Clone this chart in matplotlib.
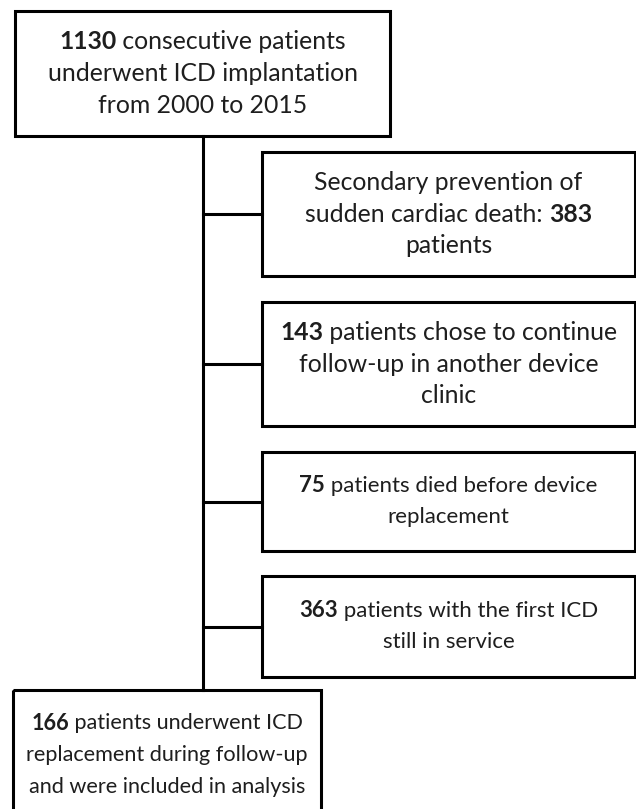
import re
import matplotlib
matplotlib.use('Agg')
import matplotlib.pyplot as plt
from matplotlib.patches import Rectangle

W, H = 636, 809

# box texts, **...** marks bold parts
top_text = ["**1130** consecutive patients", "underwent ICD implantation", "from 2000 to 2015"]
side_texts = [
    ["Secondary prevention of", "sudden cardiac death: **383**", "patients"],
    ["**143** patients chose to continue", "follow-up in another device", "clinic"],
    ["**75** patients died before device", "replacement"],
    ["**363** patients with the first ICD", "still in service"],
]
bottom_text = ["**166** patients underwent ICD", "replacement during follow-up", "and were included in analysis"]

# box geometry in pixels (x0, y0, x1, y1)
top_box = (15, 11, 390, 136)
side_boxes = [(262, 152, 635, 276), (262, 302, 635, 426), (262, 452, 635, 551), (262, 576, 635, 677)]
bottom_box = (13, 690, 321, 830)
trunk_x = 203

# font sizes: the lower boxes use a tighter text in the original
side_fs = [17.8, 17.8, 16.0, 16.0]
top_fs = 17.8
bottom_fs = 15.6

FONT = 'Lato'
LINE_H = 31.8
TXT = '#1e1e1e'

fig = plt.figure(figsize=(W / 100, H / 100), dpi=100)
ax = fig.add_axes([0, 0, 1, 1])
ax.set_xlim(0, W)
ax.set_ylim(H, 0)
ax.axis('off')
renderer = fig.canvas.get_renderer()


def parse(line):
    parts = re.split(r'(\*\*.*?\*\*)', line)
    segs = []
    for p in parts:
        if not p:
            continue
        if p.startswith('**'):
            segs.append((p[2:-2], 'bold'))
        else:
            segs.append((p, 'normal'))
    return segs


def draw_line(line, cx, cy, fs):
    segs = parse(line)
    objs = []
    total = 0
    for s, w in segs:
        t = ax.text(0, cy, s, fontsize=fs, fontweight=w, family=FONT, color=TXT,
                    ha='left', va='center')
        bb = t.get_window_extent(renderer=renderer)
        objs.append((t, bb.width))
        total += bb.width
    x = cx - total / 2
    for t, wd in objs:
        t.set_x(x)
        x += wd


def draw_box(box, lines, fs):
    x0, y0, x1, y1 = box
    ax.add_patch(Rectangle((x0, y0), x1 - x0, y1 - y0, fill=False, lw=2.2, ec='black'))
    cx = (x0 + x1) / 2
    cy = (y0 + y1) / 2 if y1 <= H else y0 + 65
    n = len(lines)
    for i, ln in enumerate(lines):
        draw_line(ln, cx, cy + (i - (n - 1) / 2) * LINE_H, fs)


draw_box(top_box, top_text, top_fs)
for b, t, f in zip(side_boxes, side_texts, side_fs):
    draw_box(b, t, f)
draw_box(bottom_box, bottom_text, bottom_fs)

# connectors
ax.plot([trunk_x, trunk_x], [top_box[3], bottom_box[1]], color='black', lw=2.2)
for b in side_boxes:
    yc = (b[1] + b[3]) / 2
    ax.plot([trunk_x, b[0]], [yc, yc], color='black', lw=2.2)

fig.savefig('out.png', dpi=100)
